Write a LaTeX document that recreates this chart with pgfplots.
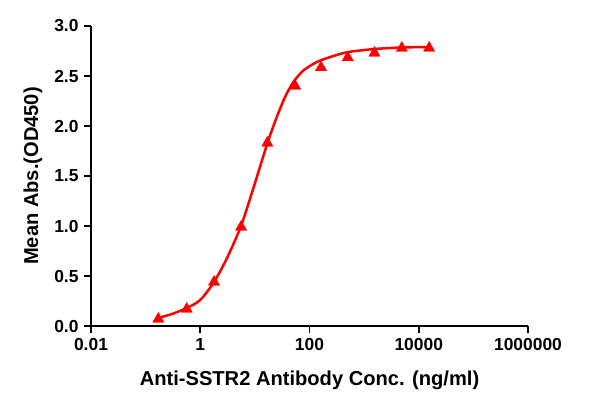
\documentclass[border=0pt]{standalone}
\usepackage{pgfplots}
\pgfplotsset{compat=1.18}
\usepackage{fontspec}
\setmainfont{Liberation Sans}
\begin{document}
\begin{tikzpicture}
\useasboundingbox (-91bp,-70bp) rectangle (506bp,326bp);
\begin{axis}[
  scale only axis,
  width=437bp, height=300bp,
  xmode=log,
  xmin=0.01, xmax=1000000,
  ymin=0, ymax=3,
  axis x line*=bottom,
  axis y line*=left,
  axis line style={line width=1.5bp, black},
  major tick style={line width=1.5bp, black},
  tick align=outside,
  major tick length=7bp,
  xtick={0.01,1,100,10000,1000000},
  xticklabels={0.01,1,100,10000,1000000},
  xminorticks=false,
  ytick={0,0.5,1,1.5,2,2.5,3},
  yticklabel style={/pgf/number format/fixed, /pgf/number format/fixed zerofill, /pgf/number format/precision=1, xshift=-2bp},
  /pgf/number format/assume math mode=true,
  ticklabel style={font=\bfseries\fontsize{17.5}{19}\selectfont},
  xticklabel style={yshift=-2bp},
  xlabel={Anti-SSTR2 Antibody Conc. (ng/ml)},
  ylabel={Mean Abs.(OD450)},
  label style={font=\bfseries\fontsize{20.2}{23}\selectfont},
  xlabel style={yshift=-13bp},
  ylabel style={yshift=5bp},
  clip=false,
]
\addplot[red, line width=2.5bp, smooth, tension=0.45] coordinates {
(0.171,0.08) (0.302,0.12) (0.570,0.18) (1,0.26) (1.79,0.44) (3.09,0.68)
(5.58,1.00) (9.66,1.40) (13.4,1.65) (17.7,1.86) (25.2,2.09) (35.7,2.29)
(50.7,2.44) (77.3,2.555) (136,2.64) (274,2.70) (515,2.74) (1549,2.77)
(4898,2.785) (15488,2.79)
};
\addplot[only marks, mark=triangle*, mark size=6.5bp, red, mark options={fill=red, draw=red}] coordinates {
(0.171,0.07) (0.566,0.17) (1.79,0.44) (5.59,0.99) (16.9,1.83) (54.5,2.40)
(163,2.585) (502,2.685) (1545,2.73) (4900,2.78) (15500,2.78)
};
\end{axis}
\end{tikzpicture}
\end{document}
